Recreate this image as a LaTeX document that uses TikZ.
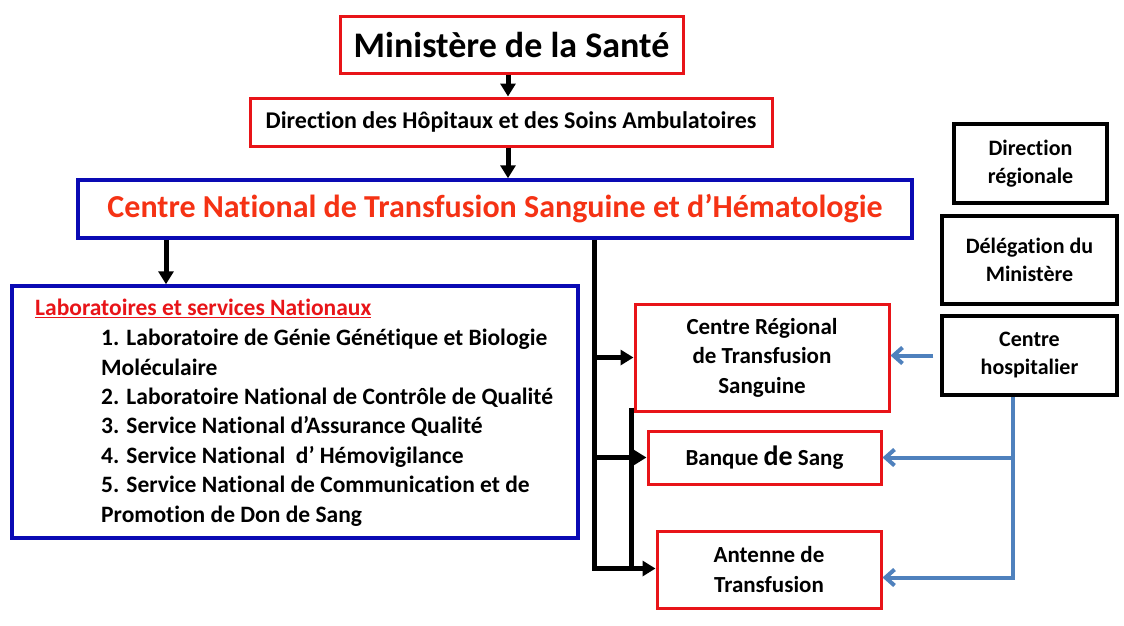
\documentclass[tikz,border=0pt]{standalone}
\usepackage{fontspec}
\setmainfont{Carlito}[Ligatures=NoCommon]
\usetikzlibrary{arrows.meta}
\definecolor{boxred}{RGB}{232,20,24}
\definecolor{boxblue}{RGB}{10,10,180}
\definecolor{titlered}{RGB}{245,50,20}
\definecolor{linkblue}{RGB}{79,129,189}
\tikzset{
  redbox/.style={draw=boxred,line width=3pt,inner sep=0pt,align=center,font=\bfseries\fontsize{23}{29.5}\selectfont},
  bluebox/.style={draw=boxblue,line width=3.5pt,inner sep=0pt},
  blackbox/.style={draw=black,line width=3.5pt,inner sep=0pt,align=center,font=\bfseries\fontsize{22}{28}\selectfont},
  feed/.style={line width=5pt,-{Triangle[length=13pt,width=15pt]}},
  plainfeed/.style={line width=5pt},
  bluelink/.style={linkblue,line width=4pt,-{Straight Barb[length=9pt,width=16pt,line width=4pt]}}
}
\begin{document}
\begin{tikzpicture}[x=1pt,y=-1pt]
  \useasboundingbox (0,0) rectangle (1124,625);
  % Tutelle
  \node[redbox,minimum width=343pt,minimum height=57pt,font=\bfseries\fontsize{36}{40}\selectfont]
    (min) at (511.5,44.5) {Ministère de la Santé};
  \node[redbox,minimum width=522pt,minimum height=48pt,font=\bfseries\fontsize{24}{28}\selectfont]
    (dhsa) at (511,122) {Direction des Hôpitaux et des Soins Ambulatoires};
  \node[bluebox,minimum width=834pt,minimum height=58pt,text=titlered,font=\bfseries\fontsize{32}{36}\selectfont]
    (cnts) at (495,209) {Centre National de Transfusion Sanguine et d’Hématologie};
  % Laboratoires
  \node[bluebox,minimum width=566pt,minimum height=252pt] (lab) at (295,412) {};
  \node[anchor=south west,inner sep=0pt,text=boxred,font=\bfseries\fontsize{23.5}{28}\selectfont]
    (labhead) at (35,318) {\underline{Laboratoires et services Nationaux}};
  \node[anchor=north west,inner sep=0pt,align=left,font=\bfseries\fontsize{23.5}{29.4}\selectfont]
    (labitems) at (101,329) {1. Laboratoire de Génie Génétique et Biologie\\
      Moléculaire\\
      2. Laboratoire National de Contrôle de Qualité\\
      3. Service National d’Assurance Qualité\\
      4. Service National\ \ d’ Hémovigilance\\
      5. Service National de Communication et de\\
      Promotion de Don de Sang};
  % Structures regionales
  \node[redbox,minimum width=254pt,minimum height=107pt] (crts) at (762,357.5)
    {Centre Régional\\de Transfusion\\Sanguine};
  \node[redbox,minimum width=233pt,minimum height=53pt] (bank) at (764.5,457.5)
    {Banque {\fontsize{28}{29}\selectfont de} Sang};
  \node[redbox,minimum width=224pt,minimum height=77pt] (ant) at (769,569.5)
    {Antenne de\\Transfusion};
  \node[blackbox,minimum width=153pt,minimum height=79pt] (dreg) at (1030.5,163.5)
    {Direction\\régionale};
  \node[blackbox,minimum width=175pt,minimum height=88pt] (deleg) at (1029.5,260)
    {Délégation du\\Ministère};
  \node[blackbox,minimum width=175pt,minimum height=79pt] (chosp) at (1029.5,355.5)
    {Centre\\hospitalier};
  % Liaisons
  \coordinate (spine) at (508,0);
  \coordinate (labin) at (166,0);
  \coordinate (trunk) at (594,0);
  \coordinate (drop) at (1013,0);
  \draw[feed] (min.south -| spine) -- (dhsa.north -| spine);
  \draw[feed] (dhsa.south -| spine) -- (cnts.north -| spine);
  \draw[feed] (cnts.south -| labin) -- (lab.north -| labin);
  \draw[feed] (cnts.south -| trunk) |- ([yshift=1pt]ant.west);
  \draw[feed] (trunk |- crts.west) -- (crts.west);
  \draw[feed] (trunk |- bank.west) -- (bank.west);
  \draw[plainfeed] ([xshift=-2pt,yshift=5pt]crts.south west) -- ([xshift=-2pt,yshift=1pt]crts.south west |- ant.west);
  \draw[bluelink,shorten <=7pt] (chosp.west) -- (chosp.west -| crts.east);
  \draw[bluelink] (chosp.south -| drop) |- ([yshift=-8pt]ant.east);
  \draw[bluelink] (drop |- bank.east) -- (bank.east);
\end{tikzpicture}
\end{document}
